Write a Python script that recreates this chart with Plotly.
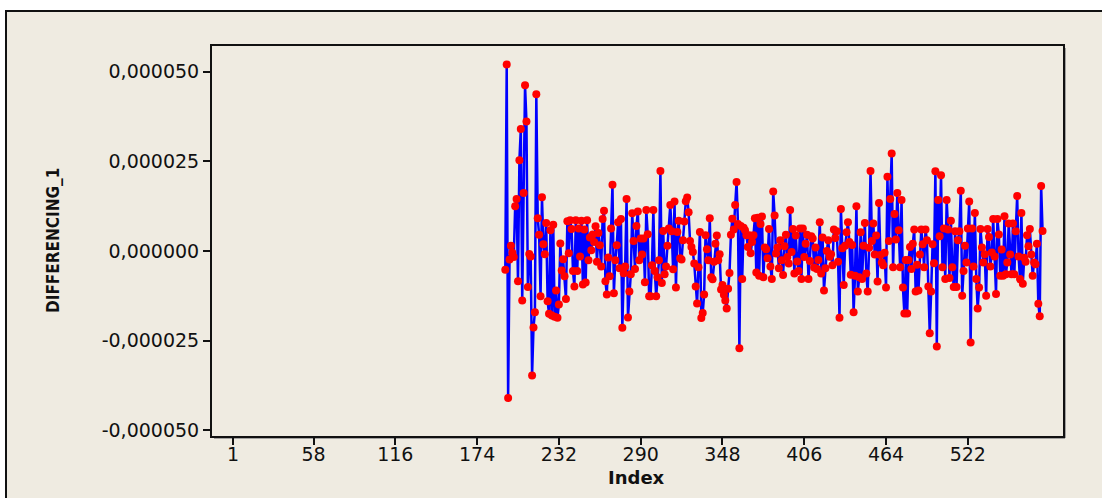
import numpy as np
import plotly.graph_objects as go

# First-differenced series (values in units of 1e-6), observations 194..575
start_index = 194
diff_1_e6 = [
    # 194-243
    -5.2, 52.0, -41.0, -2.4, 1.5, -0.5, -1.7, 12.5, 14.5, -8.4,
    25.3, 34.0, -13.8, 16.2, 46.2, 36.1, -10.0, -0.8, -1.5, -34.7,
    -21.3, -17.1, 43.7, 9.1, 4.5, -12.6, 15.0, 1.9, -0.9, 7.8,
    -14.0, -17.5, 5.8, -18.0, 7.3, -18.3, -11.0, -18.6, -14.9, 2.1,
    -5.4, -2.3, -7.0, -13.4, 8.3, -0.6, 8.6, 6.1, -5.6, -9.9,
    # 244-296
    8.6, -5.6, 6.3, -1.5, 8.4, -9.3, 6.0, -8.8, 8.6, -2.6,
    3.8, 0.2, 4.6, 2.5, 6.9, -3.0, 5.0, 1.6, -4.3, 8.9,
    11.2, -8.4, -12.1, -1.8, -7.0, 6.3, 18.5, -11.8, -2.6, 1.6,
    8.0, -4.8, 8.9, -21.4, -6.2, -4.3, 14.5, -18.5, -11.3, -6.5,
    10.5, 2.8, -5.0, 7.0, 11.0, -2.6, 3.5, -1.0, 3.5, -8.7,
    11.4, 4.7, -12.6,
    # 297-348
    -12.6, -4.0, 11.4, -5.6, -12.6, -7.3, -2.6, 22.3, -8.9, 5.6,
    -6.5, -4.3, 1.5, 6.3, 12.8, 5.5, -5.1, 13.8, -10.2, 5.3,
    8.4, -2.0, -2.4, 3.0, 8.2, 13.9, 14.9, 10.8, 2.8, 1.1,
    -0.3, -3.5, -9.9, -14.6, -4.5, 5.3, -18.7, -17.3, -12.1, 4.4,
    0.5, -2.6, 9.1, -7.3, -7.9, -3.0, 2.0, 4.3, -2.6, -0.9,
    -10.7, -9.5,
    # 349-401
    -12.2, -13.8, -16.0, -10.5, -6.1, 4.5, 9.0, 6.0, 12.8, 19.2,
    7.5, -27.1, 7.0, -7.8, 6.5, 5.8, 4.4, 1.1, 4.4, -0.6,
    2.5, 4.4, 9.1, -6.0, 9.3, -6.9, 7.5, 9.6, -7.3, 1.0,
    0.5, -2.0, 6.1, -4.3, -7.8, 16.6, 9.9, -0.7, 1.0, -4.8,
    3.0, -2.6, -6.7, 1.3, 4.5, -1.7, -3.5, 11.4, -0.3, 6.1,
    -6.3, 4.3, -2.9,
    # 402-454
    -5.6, 6.3, -7.8, 6.3, -1.7, 2.0, 4.5, -7.8, -2.8, 4.1,
    3.5, -4.6, 1.0, -5.0, -2.5, 8.0, -6.3, 3.8, -11.0, -4.8,
    0.0, 3.0, -1.6, -0.9, -4.0, 6.0, 3.6, 5.5, -3.0, -18.6,
    11.7, 0.8, -9.5, 1.5, 5.2, 8.0, 2.5, -6.6, 1.7, -17.1,
    -6.9, 12.5, -11.3, -7.3, 5.2, -7.8, 1.5, 7.8, -6.3, -11.3,
    0.9, 22.3, 2.8,
    # 455-507
    7.7, -1.0, 4.3, -8.5, 13.4, -1.1, -3.2, -4.0, -0.5, -10.2,
    20.7, 2.8, 14.5, 27.2, -4.5, 10.3, 3.2, 16.2, 5.8, -4.5,
    14.2, -10.2, -17.4, -2.5, -17.4, -2.5, 1.1, -5.0, 2.0, 6.0,
    -11.3, -3.8, -11.0, -1.0, 6.0, 1.9, -4.5, 6.0, 3.0, -9.9,
    -22.9, -11.3, 1.9, -3.4, 22.2, -26.6, 14.2, 4.1, 21.1, -4.5,
    6.3, -7.8, 14.2,
    # 508-575
    6.0, -7.5, 8.4, -4.5, -10.0, 5.5, -10.0, 3.0, 5.5, 16.8,
    -12.5, -5.6, 1.5, -3.2, 6.3, 13.8, -25.5, 6.3, -4.3, 10.6,
    -7.8, -16.0, -10.2, 6.1, 1.0, -3.2, -0.9, -12.5, 6.1, 3.9,
    -4.3, -0.4, 8.9, -1.5, -12.0, 8.9, 4.6, -6.9, 0.4, -6.9,
    9.7, -6.5, -3.2, 7.7, -1.0, -6.5, 7.7, -6.5, 5.5, 15.3,
    -1.5, -7.8, 10.6, -9.1, -1.9, -3.0, 4.4, 1.3, 6.1, -1.0,
    -6.9, -3.2, -3.7, 2.0, -14.7, -18.2, 18.1, 5.6,
]

x_tick_vals = [1, 58, 116, 174, 232, 290, 348, 406, 464, 522]
y_tick_vals = [0.000050, 0.000025, 0.0, -0.000025, -0.000050]
y_tick_text = ["0,000050", "0,000025", "0,000000", "-0,000025", "-0,000050"]

index = np.arange(start_index, start_index + len(diff_1_e6))
values = np.array(diff_1_e6) * 1e-6

W, H = 1102, 498
L, R, T, B = 212, 1063, 46, 436  # plot area in pixels
pw, ph = R - L, B - T


def px(xp):
    return (xp - L) / pw


def py(yp):
    return (B - yp) / ph


BEIGE = "#EFEBE1"

fig = go.Figure()
fig.add_trace(go.Scatter(
    x=index, y=values,
    mode="lines+markers",
    line=dict(color="#0000FF", width=2.5),
    marker=dict(color="#FF0000", size=8, line=dict(width=0)),
    showlegend=False,
    hoverinfo="x+y",
))

axis_font = dict(family="DejaVu Sans, Verdana, sans-serif", size=19, color="#111111")

fig.update_layout(
    width=W, height=H,
    margin=dict(l=L, r=W - R, t=T, b=H - B, pad=0),
    paper_bgcolor="white",
    plot_bgcolor="white",
    xaxis=dict(
        range=[-14.0, 589.5],
        tickmode="array", tickvals=x_tick_vals,
        ticks="outside", ticklen=7, tickwidth=1.5, tickcolor="#111111",
        ticklabelstandoff=-7,
        showline=True, linecolor="#111111", linewidth=2, mirror=True,
        showgrid=False, zeroline=False,
        tickfont=axis_font,
    ),
    yaxis=dict(
        range=[-51.56e-6, 57.14e-6],
        tickmode="array", tickvals=y_tick_vals, ticktext=y_tick_text,
        ticks="outside", ticklen=7, tickwidth=1.5, tickcolor="#111111",
        showline=True, linecolor="#111111", linewidth=2, mirror=True,
        showgrid=False, zeroline=False,
        tickfont=axis_font,
    ),
    shapes=[
        # beige panel with black frame on top and left
        dict(type="rect", xref="paper", yref="paper",
             x0=px(6), x1=px(W + 20), y0=py(H + 20), y1=py(11),
             fillcolor=BEIGE, line=dict(color="#111111", width=2), layer="below"),
        # soft shadow along the right and bottom of the plot box
        dict(type="line", xref="paper", yref="paper",
             x0=px(R + 2), x1=px(R + 2), y0=py(B + 2), y1=py(T + 2),
             line=dict(color="#8a8a8a", width=1.5), layer="below"),
        dict(type="line", xref="paper", yref="paper",
             x0=px(L + 2), x1=px(R + 2), y0=py(B + 2), y1=py(B + 2),
             line=dict(color="#8a8a8a", width=1.5), layer="below"),
    ],
    annotations=[
        dict(text="<b>DIFFERENCING_1</b>", xref="paper", yref="paper",
             x=px(53), y=0.5, textangle=-90, showarrow=False,
             xanchor="center", yanchor="middle",
             font=dict(family="Liberation Sans Narrow, DejaVu Sans Condensed, Arial Narrow, sans-serif",
                       size=17, color="#111111")),
        dict(text="<b>Index</b>", xref="paper", yref="paper",
             x=px(636.5), y=py(477), showarrow=False,
             xanchor="center", yanchor="middle",
             font=dict(family="DejaVu Sans, Verdana, sans-serif", size=18, color="#111111")),
    ],
)

fig.write_html("out.html")
